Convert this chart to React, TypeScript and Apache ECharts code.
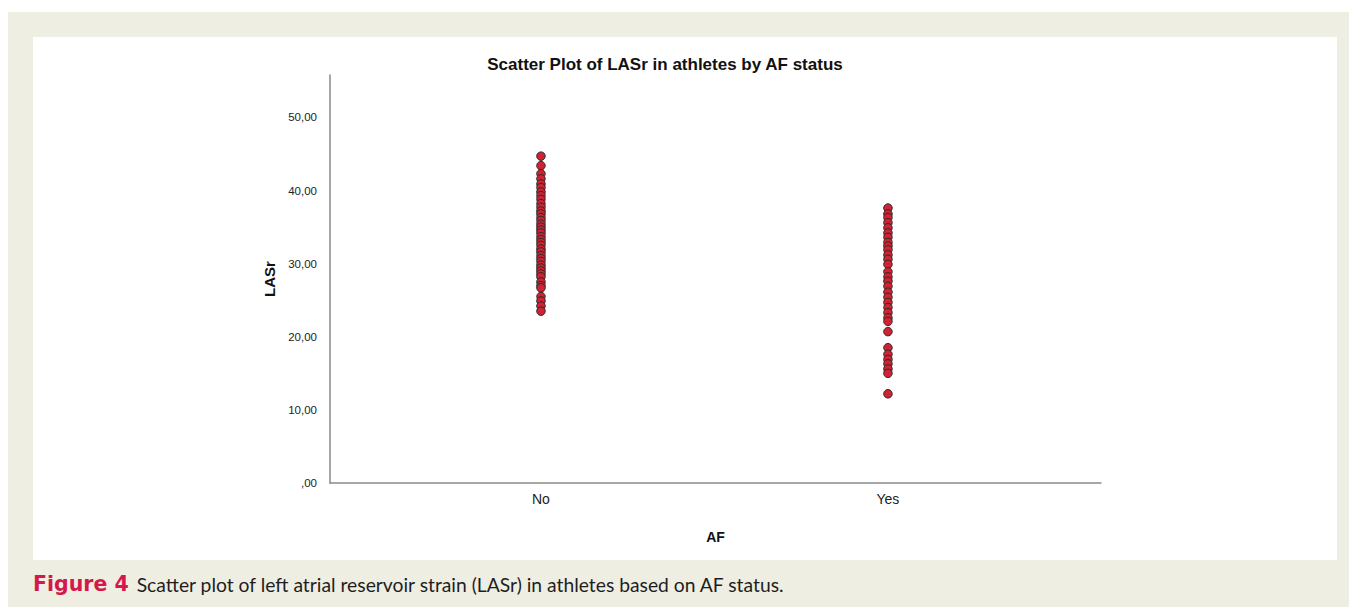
import React, { useEffect, useRef } from "react";
import * as echarts from "echarts";

const categories = ["No", "Yes"];
const yTicks = [0, 10, 20, 30, 40, 50];
const lasrNo = [
  44.7, 43.4, 42.3, 41.6, 40.9, 40.4, 39.8, 39.3, 38.8, 38.2, 37.7, 37.2, 36.8,
  36.3, 35.9, 35.4, 35.0, 34.6, 34.2, 33.7, 33.3, 32.9, 32.5, 32.0, 31.6, 31.1,
  30.7, 30.3, 29.8, 29.4, 29.0, 28.6, 28.2, 27.5, 27.0, 26.7, 25.5, 24.9, 24.2,
  23.5,
];
const lasrYes = [
  37.6, 36.8, 36.3, 35.6, 34.9, 34.2, 33.6, 32.9, 32.4, 31.9, 31.2, 30.6, 29.9,
  28.9, 28.2, 27.6, 26.9, 26.1, 25.4, 24.7, 24.0, 23.3, 22.6, 22.1, 20.7, 18.5,
  17.6, 16.9, 16.3, 15.6, 15.0, 12.2,
];

export default function App() {
  const ref = useRef<HTMLDivElement>(null);
  useEffect(() => {
    if (!ref.current) return;
    const chart = echarts.init(ref.current, undefined, { renderer: "svg" });
    const dataNo = lasrNo.map((v) => [1, v]);
    const dataYes = lasrYes.map((v) => [2, v]);
    chart.setOption({
      animation: false,
      backgroundColor: "#ffffff",
      graphic: [
        { type: "rect", z: -10, silent: true, shape: { x: 8, y: 12, width: 1341, height: 595 }, style: { fill: "#efeee3" } },
        { type: "rect", z: -9, silent: true, shape: { x: 33, y: 37, width: 1304, height: 523 }, style: { fill: "#ffffff" } },
        {
          type: "text", x: 665, y: 64,
          style: { text: "Scatter Plot of LASr in athletes by AF status", font: "bold 17px 'Liberation Sans', Arial, sans-serif", fill: "#111", align: "center", verticalAlign: "middle" },
        },
        {
          type: "text", x: 33, y: 584,
          style: {
            text: "{a|Figure 4}{b|Scatter plot of left atrial reservoir strain (LASr) in athletes based on AF status.}",
            verticalAlign: "middle",
            rich: {
              a: { fontFamily: "'DejaVu Sans', sans-serif", fontWeight: "bold", fontSize: 20.5, fill: "#d4194a", padding: [0, 8, 0, 0] },
              b: { fontFamily: "Lato, 'Open Sans', sans-serif", fontSize: 19.3, fill: "#1e1e1e" },
            },
          },
        },
      ],
      grid: { left: 330, right: 248, top: 75, bottom: 124 },
      xAxis: {
        type: "value",
        min: 0.392,
        max: 2.614,
        name: "AF",
        nameLocation: "middle",
        nameGap: 47,
        nameTextStyle: { fontFamily: "'Liberation Sans', Arial, sans-serif", fontWeight: "bold", fontSize: 14, color: "#111" },
        axisLine: { show: true, lineStyle: { color: "#8a8a8a", width: 1.5 } },
        axisTick: { show: false },
        splitLine: { show: false },
        axisLabel: {
          customValues: [1, 2],
          formatter: (v: number) => categories[Math.round(v) - 1] ?? "",
          fontFamily: "'Liberation Sans', Arial, sans-serif",
          fontSize: 14,
          color: "#222",
          margin: 9,
        },
      },
      yAxis: {
        type: "value",
        min: 0,
        max: 55.8,
        name: "LASr",
        nameLocation: "middle",
        nameGap: 51,
        nameRotate: 90,
        nameTextStyle: { fontFamily: "'Liberation Sans', Arial, sans-serif", fontWeight: "bold", fontSize: 15, color: "#111" },
        axisLine: { show: true, lineStyle: { color: "#8a8a8a", width: 1.5 } },
        axisTick: { show: false },
        splitLine: { show: false },
        axisLabel: {
          customValues: yTicks,
          formatter: (v: number) => (v === 0 ? ",00" : v.toFixed(2).replace(".", ",")),
          fontFamily: "'Liberation Sans', Arial, sans-serif",
          fontSize: 11.5,
          color: "#222",
          margin: 13,
        },
      },
      series: [
        {
          type: "scatter",
          data: dataNo,
          symbolSize: 8.5,
          itemStyle: { color: "#cf2233", borderColor: "#2b2b2b", borderWidth: 1, opacity: 1 },
        },
        {
          type: "scatter",
          data: dataYes,
          symbolSize: 8.5,
          itemStyle: { color: "#cf2233", borderColor: "#2b2b2b", borderWidth: 1, opacity: 1 },
        },
      ],
    });
    return () => chart.dispose();
  }, []);
  return (
    <div style={{ position: "fixed", left: 0, top: 0, width: 1349, height: 607 }}>
      <div ref={ref} style={{ width: 1349, height: 607 }} />
    </div>
  );
}
